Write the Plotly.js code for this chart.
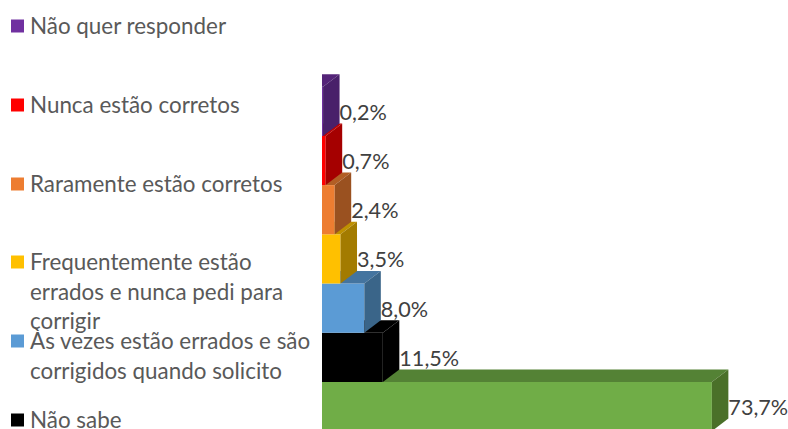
<!DOCTYPE html>
<html>
<head>
<meta charset="utf-8">
<script src="https://cdn.plot.ly/plotly-3.0.1.min.js"></script>
<style>html,body{margin:0;padding:0;background:#fff}#c{width:788px;height:429px}</style>
</head>
<body>
<div id="c"></div>
<script>
// Bottom to top, as drawn
const categories = [
  "Sim, sempre estão corretos",
  "Não sabe",
  "Às vezes estão errados e são<br>corrigidos quando solicito",
  "Frequentemente estão<br>errados e nunca pedi para<br>corrigir",
  "Raramente estão corretos",
  "Nunca estão corretos",
  "Não quer responder"
];
const values = [73.7, 11.5, 8.0, 3.5, 2.4, 0.7, 0.2];
const valueLabels = ["73,7%", "11,5%", "8,0%", "3,5%", "2,4%", "0,7%", "0,2%"];
const frontColors = ["#70AD47", "#000000", "#5B9BD5", "#FFC000", "#ED7D31", "#FF0000", "#7030A0"];
const topColors   = ["#548235", "#000000", "#44749F", "#BF9000", "#B25E25", "#BF0000", "#542478"];
const sideColors  = ["#4A7029", "#000000", "#3A6589", "#A37B00", "#9A5120", "#A50000", "#49206A"];
const legendCenters = [null, 419.5, 340.5, 261.5, 183.5, 104.5, 25.5];

const W = 788, H = 429;
const x0px = 322, pxPerUnit = 5.29, bandPx = 49.2, y0px = 406.5;
const depthX = 16.5 / pxPerUnit, depthY = 12.5 / bandPx;
const labelDropPx = 3.2;
const idx = values.map((_, i) => i);

const traces = [{
  type: "bar", orientation: "h", y: idx, x: values, width: 1,
  marker: {color: frontColors, line: {width: 0}},
  hoverinfo: "skip", showlegend: false
}];

idx.forEach(i => {
  const v = values[i], next = i + 1 < values.length ? values[i + 1] : 0;
  const t = i + 0.5;
  traces.push({
    type: "scatter", mode: "lines", fill: "toself", fillcolor: topColors[i],
    line: {width: 0}, hoverinfo: "skip", showlegend: false,
    x: [next, v, v + depthX, next, next],
    y: [t, t, t + depthY, t + depthY, t]
  });
});
// Side faces go on top of the top face of the bar below
idx.forEach(i => {
  const v = values[i], t = i + 0.5, b = i - 0.5;
  traces.push({
    type: "scatter", mode: "lines", fill: "toself", fillcolor: sideColors[i],
    line: {width: 0}, hoverinfo: "skip", showlegend: false,
    x: [v, v + depthX, v + depthX, v, v],
    y: [b, b + depthY, t + depthY, t, b]
  });
});
traces.push({
  type: "scatter", mode: "text", x: values.map(v => v + depthX), y: idx.map(i => i - labelDropPx / bandPx),
  text: valueLabels, textposition: "middle right", cliponaxis: false,
  textfont: {family: "Lato, Carlito, sans-serif", size: 21.6, color: "#404040"},
  hoverinfo: "skip", showlegend: false
});

const annotations = [], shapes = [];
const lineStep = 29.5;
idx.forEach(i => {
  if (legendCenters[i] === null) return;
  const c = legendCenters[i];
  const sq = Math.round(c + 0.5);
  shapes.push({
    type: "rect", xref: "paper", yref: "paper", line: {width: 0}, fillcolor: frontColors[i],
    x0: 11 / W, x1: 24 / W, y0: 1 - (sq + 6.5) / H, y1: 1 - (sq - 6.5) / H
  });
  categories[i].split("<br>").forEach((line, k) => {
    annotations.push({
      xref: "paper", yref: "paper", x: 28.5 / W, y: 1 - (c + k * lineStep) / H,
      xanchor: "left", yanchor: "middle", showarrow: false, borderpad: 0,
      text: line, font: {family: "Lato, Carlito, sans-serif", size: 22.4, color: "#595959"}
    });
  });
});

const layout = {
  width: W, height: H, margin: {l: 0, r: 0, t: 0, b: 0, pad: 0},
  paper_bgcolor: "#ffffff", plot_bgcolor: "#ffffff", showlegend: false,
  xaxis: {range: [-x0px / pxPerUnit, (W - x0px) / pxPerUnit], visible: false, fixedrange: true},
  yaxis: {range: [(y0px - H) / bandPx, y0px / bandPx], visible: false, fixedrange: true},
  annotations, shapes
};
Plotly.newPlot("c", traces, layout, {displayModeBar: false, staticPlot: true});
</script>
</body>
</html>
